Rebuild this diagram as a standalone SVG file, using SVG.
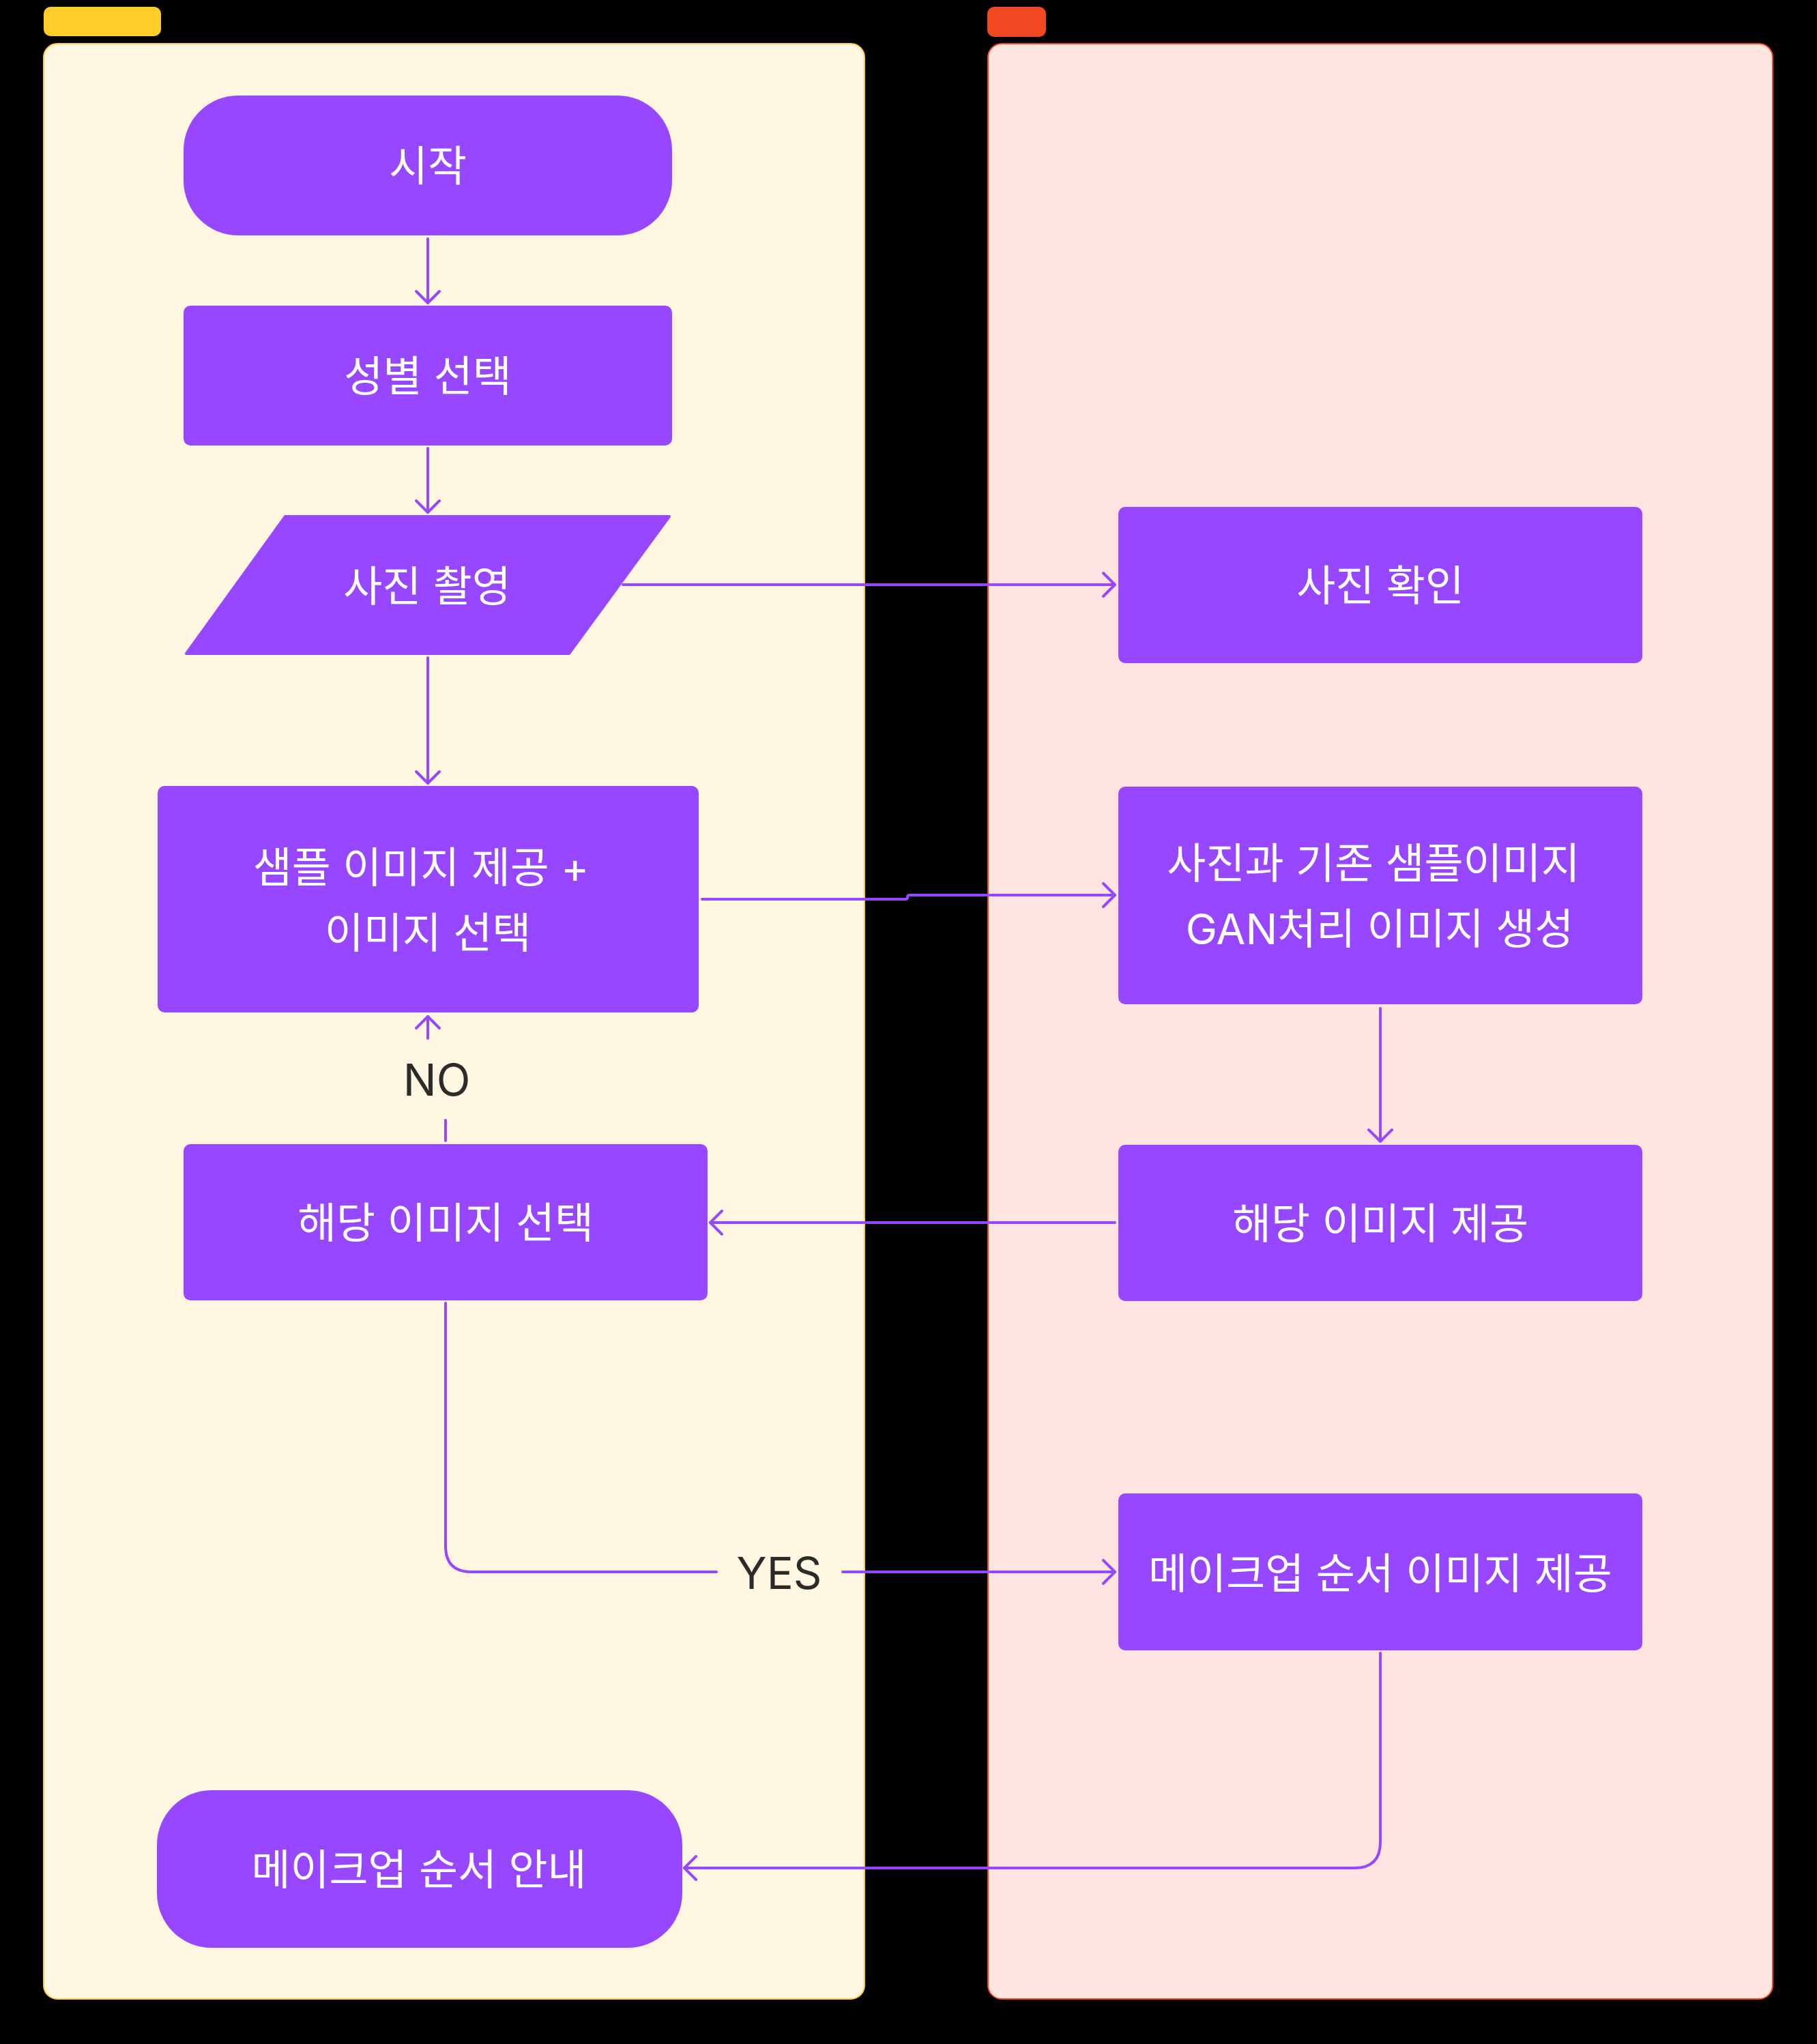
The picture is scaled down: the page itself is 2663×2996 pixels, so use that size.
<svg xmlns="http://www.w3.org/2000/svg" width="2663" height="2996" viewBox="0 0 2663 2996">
<style>
.lane-y{fill:#FFF7E1;stroke:#FFC943;stroke-width:2}
.lane-r{fill:#FFE4DF;stroke:#F24822;stroke-width:2}
.node{fill:#9747FF}
.t{font-family:Inter,"Noto Sans CJK KR",sans-serif;font-size:62px;fill:#FFFFFF;text-anchor:middle}
.lbl{font-family:Inter,"Noto Sans CJK KR",sans-serif;font-size:65px;fill:#2C2B28;text-anchor:middle}
.c{fill:none;stroke:#9747FF;stroke-width:4;stroke-linecap:round;stroke-linejoin:round}
</style>
<defs>
<marker id="ah" markerUnits="userSpaceOnUse" viewBox="-22 -22 44 44" markerWidth="44" markerHeight="44" refX="0" refY="0" orient="auto">
<path d="M-17,-17 L0,0 L-17,17" fill="none" stroke="#9747FF" stroke-width="4" stroke-linecap="round" stroke-linejoin="round"/>
</marker>
</defs>
<rect x="0" y="0" width="2663" height="2996" fill="#000000"/>
<g id="lanes">
<rect x="64" y="10" width="172" height="43" rx="10" fill="#FFCD29"/>
<rect x="64" y="64" width="1203" height="2866" rx="20" class="lane-y"/>
<rect x="1447" y="10" width="86" height="44" rx="10" fill="#F24822"/>
<rect x="1448" y="64" width="1150" height="2866" rx="20" class="lane-r"/>
</g>
<g id="connectors">
<path class="c" d="M627,350 V444" marker-end="url(#ah)"/>
<path class="c" d="M627,657 V751" marker-end="url(#ah)"/>
<path class="c" d="M627,964 V1148" marker-end="url(#ah)"/>
<path class="c" d="M913,857 H1634" marker-end="url(#ah)"/>
<path class="c" d="M1029,1318 H1327 Q1330,1318 1330,1315 Q1330,1312 1333,1312 H1634" marker-end="url(#ah)"/>
<path class="c" d="M2023,1478 V1673" marker-end="url(#ah)"/>
<path class="c" d="M1634,1792 H1041" marker-end="url(#ah)"/>
<path class="c" d="M653,1672 V1642"/>
<path class="c" d="M627,1522 V1490" marker-end="url(#ah)"/>
<text class="lbl" x="640" y="1606">NO</text>
<path class="c" d="M653,1910 V2266 Q653,2304 691,2304 H1050"/>
<path class="c" d="M1235,2304 H1634" marker-end="url(#ah)"/>
<text class="lbl" x="1142" y="2329">YES</text>
<path class="c" d="M2023,2423 V2700 Q2023,2738 1985,2738 H1003" marker-end="url(#ah)"/>
</g>
<g id="start">
<rect class="node" x="269" y="140" width="716" height="205" rx="80"/>
<text class="t" x="627" y="266">시작</text>
</g>
<g id="gender">
<rect class="node" x="269" y="448" width="716" height="205" rx="10"/>
<text class="t" x="627" y="574">성별 선택</text>
</g>
<g id="photo">
<polygon class="node" points="418,757 981,757 834,958 273,958" stroke="#9747FF" stroke-width="4" stroke-linejoin="round"/>
<text class="t" x="626" y="882">사진 촬영</text>
</g>
<g id="sample">
<rect class="node" x="231" y="1152" width="793" height="332" rx="10"/>
<text class="t" x="617" y="1294">샘플 이미지 제공 +</text>
<text class="t" x="627" y="1390">이미지 선택</text>
</g>
<g id="select">
<rect class="node" x="269" y="1677" width="768" height="229" rx="10"/>
<text class="t" x="653" y="1815">해당 이미지 선택</text>
</g>
<g id="guide">
<rect class="node" x="230" y="2624" width="770" height="231" rx="80"/>
<text class="t" x="614" y="2763">메이크업 순서 안내</text>
</g>
<g id="check">
<rect class="node" x="1639" y="743" width="768" height="229" rx="10"/>
<text class="t" x="2023" y="881">사진 확인</text>
</g>
<g id="gan">
<rect class="node" x="1639" y="1153" width="768" height="319" rx="10"/>
<text class="t" x="2013" y="1288">사진과 기존 샘플이미지</text>
<text class="t" x="2022" y="1384">GAN처리 이미지 생성</text>
</g>
<g id="provide">
<rect class="node" x="1639" y="1678" width="768" height="229" rx="10"/>
<text class="t" x="2023" y="1816">해당 이미지 제공</text>
</g>
<g id="makeup">
<rect class="node" x="1639" y="2189" width="768" height="230" rx="10"/>
<text class="t" x="2023" y="2329">메이크업 순서 이미지 제공</text>
</g>
</svg>
